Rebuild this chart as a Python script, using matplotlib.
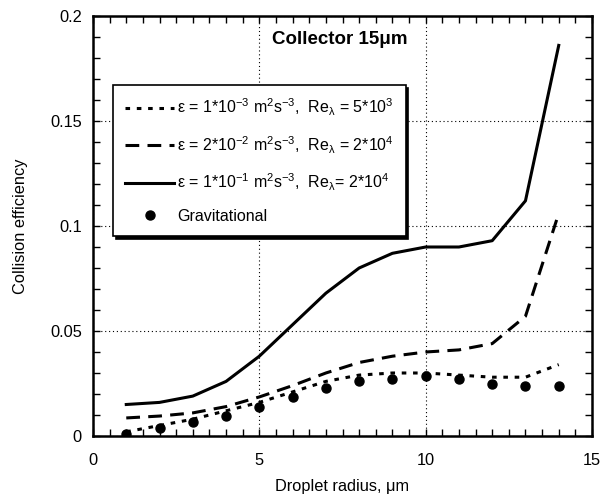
import matplotlib
import numpy as np

matplotlib.use('Agg')
import matplotlib.pyplot as plt
from matplotlib.ticker import MultipleLocator, FuncFormatter

plt.rcParams['font.family'] = ['Liberation Sans', 'DejaVu Sans']
plt.rcParams['mathtext.fontset'] = 'custom'
plt.rcParams['mathtext.rm'] = 'Liberation Sans'
plt.rcParams['mathtext.it'] = 'Liberation Sans'

# droplet radius, um
radius = [1, 2, 3, 4, 5, 6, 7, 8, 9, 10, 11, 12, 13, 14]

# collision efficiency per turbulence level
eff_low = [0.002, 0.005, 0.008, 0.012, 0.016, 0.021, 0.026, 0.029, 0.030,
           0.030, 0.029, 0.028, 0.028, 0.034]
eff_mid = [0.0086, 0.0095, 0.011, 0.014, 0.0186, 0.024, 0.030, 0.035, 0.038,
           0.040, 0.041, 0.044, 0.057, 0.106]
eff_high = [0.015, 0.016, 0.019, 0.026, 0.038, 0.053, 0.068, 0.080, 0.087,
            0.090, 0.090, 0.093, 0.112, 0.186]
eff_grav = [0.001, 0.004, 0.0065, 0.0095, 0.014, 0.0186, 0.023, 0.026, 0.027,
            0.0286, 0.027, 0.025, 0.0238, 0.024]

labels = [
    r'ε = 1*10$^{-3}$ m$^2$s$^{-3}$,  Re$_{λ}$ = 5*10$^{3}$',
    r'ε = 2*10$^{-2}$ m$^2$s$^{-3}$,  Re$_{λ}$ = 2*10$^{4}$',
    r'ε = 1*10$^{-1}$ m$^2$s$^{-3}$,  Re$_{λ}$= 2*10$^{4}$',
    'Gravitational',
]

fig = plt.figure(figsize=(6.02, 4.97), dpi=100)
ax = fig.add_axes([93 / 602, 1 - 436 / 497, 499 / 602, 420 / 497])

ax.plot(radius, eff_low, color='black', linewidth=2.2, linestyle=(0, (1.5, 2.2)),
        label=labels[0])
ax.plot(radius, eff_mid, color='black', linewidth=2.2, linestyle=(0, (4.5, 2.7)),
        label=labels[1])
ax.plot(radius, eff_high, color='black', linewidth=2.2, linestyle='-',
        label=labels[2])
ax.plot(radius, eff_grav, 'o', color='black', markersize=6.5, label=labels[3])

ax.set_xlim(0, 15)
ax.set_ylim(0, 0.2)
ax.xaxis.set_major_locator(MultipleLocator(5))
ax.xaxis.set_minor_locator(MultipleLocator(0.5))
ax.yaxis.set_major_locator(MultipleLocator(0.05))
ax.yaxis.set_minor_locator(MultipleLocator(0.01))
ax.yaxis.set_major_formatter(FuncFormatter(lambda v, p: '%g' % round(v, 3)))
ax.tick_params(which='both', direction='in', top=True, right=True,
               width=1, length=5, labelsize=11.8)
ax.tick_params(axis='x', pad=12)
ax.tick_params(axis='y', pad=8)
for s in ax.spines.values():
    s.set_linewidth(1.8)

ax.grid(True, which='major', color='black', linewidth=0.8, linestyle=(0, (1, 2.5)))

ax.set_xlabel('Droplet radius, μm', fontsize=11.8, labelpad=8)
ax.set_ylabel('Collision efficiency', fontsize=11.8)
ax.yaxis.set_label_coords(-0.13, 0.5)

ax.text(0.495, 0.943, 'Collector 15μm', transform=ax.transAxes, ha='center',
        va='center', fontsize=13.5, fontweight='bold')

leg = ax.legend(loc='upper left', bbox_to_anchor=(0.04, 0.836), borderaxespad=0,
                fontsize=11.5, handlelength=3.1, labelspacing=1.0,
                fancybox=False, framealpha=1, edgecolor='black',
                shadow={'color': 'black', 'alpha': 1}, borderpad=0.75,
                handletextpad=0.15)
leg.get_frame().set_linewidth(1.2)

fig.savefig('out.png', dpi=100)
